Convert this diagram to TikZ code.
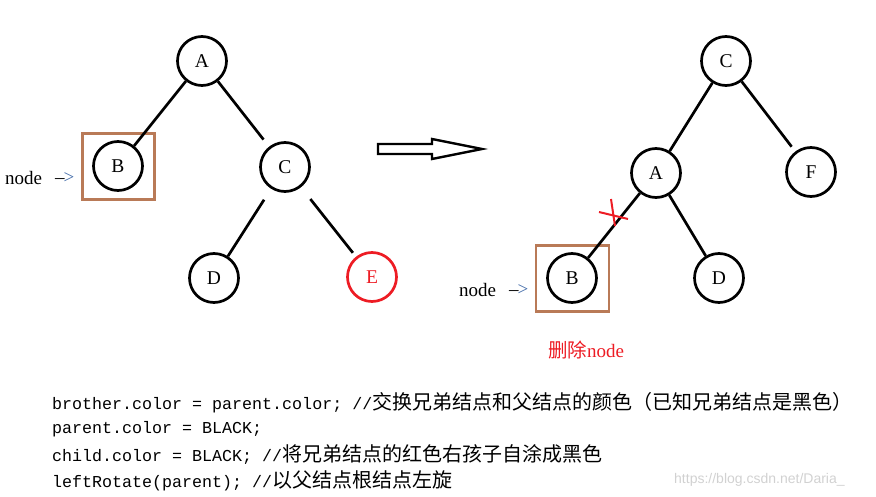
\documentclass[tikz,border=0pt]{standalone}
\usepackage{fontspec}
\setmainfont{Liberation Serif}
\setmonofont{Liberation Mono}
\newfontfamily\cjkfont{Noto Sans CJK SC}
\newfontfamily\wmfont{Liberation Sans}
\newcommand\zhtxt[1]{{\cjkfont\fontsize{20}{24}\selectfont #1}}
\begin{document}
\begin{tikzpicture}[x=1pt,y=-1pt]
\definecolor{boxbrown}{RGB}{185,122,87}
\definecolor{pred}{RGB}{237,28,36}
\definecolor{chev}{RGB}{70,110,170}
\tikzset{
  vtx/.style={circle, draw=black, line width=2.7pt, minimum size=49pt, inner sep=0pt,
              font=\fontsize{19.5}{19.5}\selectfont},
  rvtx/.style={vtx, draw=pred, text=pred},
  edge/.style={line width=2.7pt},
  selbox/.style={rectangle, draw=boxbrown, line width=2.7pt, inner sep=0pt},
  lbl/.style={anchor=west, inner sep=0pt, font=\fontsize{19}{19}\selectfont},
  codeline/.style={anchor=west, inner sep=0pt, font=\ttfamily\fontsize{16.67}{20}\selectfont},
  bigarrow/.style={line width=2.4pt, fill=white, line join=miter},
  xmark/.style={draw=pred, line width=2pt},
}
\useasboundingbox (0,0) rectangle (876,497);

% left tree
\node[vtx] (lA) at (202,61) {A};
\node[vtx] (lB) at (118,166) {B};
\node[vtx] (lC) at (285,167) {C};
\node[vtx] (lD) at (214,278) {D};
\node[rvtx] (lE) at (372,277) {E};
\node[selbox, minimum width=72pt, minimum height=66pt] (lbox) at (118.5,166.5) {};
\draw[edge] (lA) -- (lB);
\draw[edge, shorten >=9pt] (lA) -- (lC);
\draw[edge, shorten <=13pt] (lC) -- (lD);
\draw[edge, shorten <=15pt, shorten >=5pt] (lC) -- (lE);
\node[lbl] (lnode) at (5,178) {node};
\node[lbl] (larr) at (55,178) {–\kern-1pt\textcolor{chev}{>}};

% big arrow
\coordinate (arr0) at (378,149);
\draw[bigarrow] (arr0) ++(0,-5) -- ++(54,0) -- ++(0,-5) -- ++(50,10) -- ++(-50,10) -- ++(0,-5) -- ++(-54,0) -- cycle;

% right tree
\node[vtx] (rC) at (726,61) {C};
\node[vtx] (rA) at (656,173) {A};
\node[vtx] (rF) at (811,172) {F};
\node[vtx] (rB) at (572,278) {B};
\node[vtx] (rD) at (719,278) {D};
\node[selbox, minimum width=73pt, minimum height=66pt] (rbox) at (572.5,278.5) {};
\draw[edge] (rC) -- (rA);
\draw[edge, shorten >=6pt] (rC) -- (rF);
\draw[edge] (rA) -- (rB);
\draw[edge] (rA) -- (rD);
\coordinate (xc) at (613,213);
\draw[xmark] (xc) ++(-2,-14) -- ++(4,27);
\draw[xmark] (xc) ++(-14,-1) -- ++(29,7);
\node[lbl] (rnode) at (459,290) {node};
\node[lbl] (rarr) at (509,290) {–\kern-1pt\textcolor{chev}{>}};
\node[lbl, text=pred] (del) at (548,350) {{\cjkfont\fontsize{19.5}{24}\selectfont 删除}node};

% code
\node[codeline] (c1) at (52,403) {brother.color = parent.color; //\zhtxt{交换兄弟结点和父结点的颜色（已知兄弟结点是黑色）}};
\node[codeline] (c2) at (52,429) {parent.color = BLACK;};
\node[codeline] (c3) at (52,455) {child.color = BLACK; //\zhtxt{将兄弟结点的红色右孩子自涂成黑色}};
\node[codeline] (c4) at (52,481) {leftRotate(parent); //\zhtxt{以父结点根结点左旋}};
\node[anchor=west, inner sep=0pt, text=black!18, font=\wmfont\fontsize{14}{14}\selectfont] (wm) at (674,480) {https://blog.csdn.net/Daria\_};
\end{tikzpicture}
\end{document}
